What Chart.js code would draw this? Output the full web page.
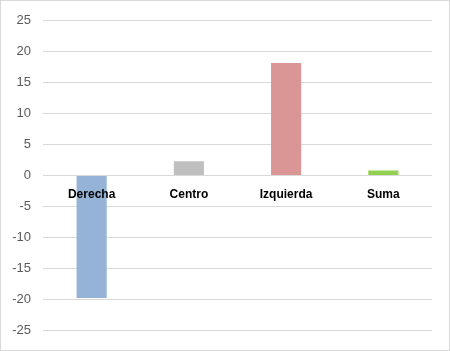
<!DOCTYPE html>
<html>
<head>
<meta charset="utf-8">
<script src="https://cdn.jsdelivr.net/npm/chart.js@4"></script>
<style>
  body { margin: 0; background: #fff; }
  .frame { width: 448px; height: 349px; border: 1px solid #d9d9d9; }
</style>
</head>
<body>
<div class="frame"><canvas id="myChart" width="448" height="349"></canvas></div>
<script>
const categories = ["Derecha", "Centro", "Izquierda", "Suma"];
const values = [-19.8, 2.3, 18.2, 0.8];
const barColors = ["#95b3d7", "#bfbfbf", "#da9694", "#92d050"];
const yTicks = [-25, -20, -15, -10, -5, 0, 5, 10, 15, 20, 25];

const ctx = document.getElementById("myChart");

// category names sit just under the zero line, drawn over the bars
const zeroLabels = {
  id: "zeroLabels",
  afterDatasetsDraw(chart) {
    const c = chart.ctx;
    const x = chart.scales.x;
    const y0 = chart.scales.y.getPixelForValue(0);
    c.save();
    c.font = "bold 12px 'Liberation Sans'";
    c.fillStyle = "#000";
    c.textAlign = "center";
    c.textBaseline = "middle";
    categories.forEach((name, i) => {
      c.fillText(name, x.getPixelForValue(i), y0 + 19);
    });
    c.restore();
  },
};

new Chart(ctx, {
  type: "bar",
  data: {
    labels: categories,
    datasets: [
      {
        data: values,
        backgroundColor: barColors,
        borderWidth: 0,
        categoryPercentage: 1,
        barPercentage: 0.31,
      },
    ],
  },
  options: {
    responsive: false,
    animation: false,
    layout: { padding: { left: 0, right: 17, top: 17, bottom: 18 } },
    plugins: { legend: { display: false }, tooltip: { enabled: false } },
    scales: {
      x: {
        display: false,
      },
      y: {
        min: yTicks[0],
        max: yTicks[yTicks.length - 1],
        afterFit: (s) => { s.width = 42; },
        afterBuildTicks: (s) => { s.ticks = yTicks.map((v) => ({ value: v })); },
        grid: { color: "#d9d9d9", drawTicks: false },
        border: { display: false },
        ticks: {
          color: "#595959",
          padding: 12,
          font: { family: "Liberation Sans", size: 13 },
        },
      },
    },
  },
  plugins: [zeroLabels],
});
</script>
</body>
</html>
